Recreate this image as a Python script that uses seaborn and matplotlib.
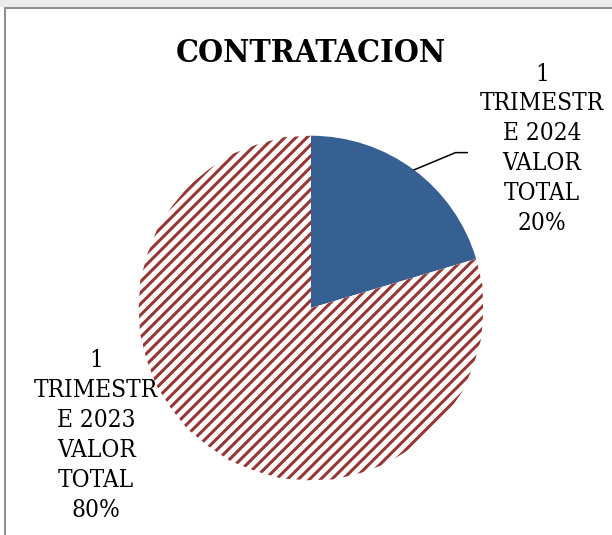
import matplotlib
matplotlib.use("Agg")
import matplotlib.pyplot as plt
import seaborn as sns
import numpy as np
from matplotlib.patches import Rectangle, Polygon
from matplotlib.lines import Line2D

# data
categories = ["1\nTRIMESTR\nE 2024\nVALOR\nTOTAL", "1\nTRIMESTR\nE 2023\nVALOR\nTOTAL"]
shares = [20.4, 79.6]
title = "CONTRATACION"

blue = "#366092"
red_hatch = "#953735"

sns.set_theme(style="white")
plt.rcParams['font.family'] = ['DejaVu Serif', 'Liberation Serif']
plt.rcParams['hatch.linewidth'] = 2.2

fig = plt.figure(figsize=(6.12, 5.35), dpi=100)
fig.patch.set_facecolor("white")

# frame like the spreadsheet chart area
fig.patches.append(Rectangle((0, 1 - 7 / 535), 1, 7 / 535, transform=fig.transFigure,
                             facecolor="#ececec", edgecolor="none"))
fig.lines.append(Line2D([5 / 612, 1], [1 - 8 / 535, 1 - 8 / 535], transform=fig.transFigure,
                        color="#8c8c8c", lw=1.4))
fig.lines.append(Line2D([5 / 612, 5 / 612], [0, 1 - 8 / 535], transform=fig.transFigure,
                        color="#8c8c8c", lw=1.4))

ax = fig.add_axes([137 / 612, 53 / 535, 348 / 612, 348 / 535])
wedges, _ = ax.pie(shares, startangle=90, counterclock=False, radius=1,
                   colors=[blue, "white"])
wedges[0].set_linewidth(0)
wedges[1].set_linewidth(0)

# hatched slice: redraw as a flattened polygon so the hatch fills the whole arc
verts = wedges[1].get_path().to_polygons()[0]
hatched = Polygon(verts, closed=True, facecolor="white", edgecolor=red_hatch,
                  linewidth=0, hatch="///")
ax.add_patch(hatched)
wedges[1].set_visible(False)

ax.set_xlim(-1.01, 1.01)
ax.set_ylim(-1.01, 1.01)
ax.set_aspect("equal")
ax.axis("off")

labels = [f"{c}\n{round(s)}%" for c, s in zip(categories, shares)]

# 2024 label with leader line
w = wedges[0]
mid = np.deg2rad((w.theta1 + w.theta2) / 2)
ax.plot([np.cos(mid), 0.839, 0.908], [np.sin(mid), 0.902, 0.902], color="black", lw=1.1,
        clip_on=False)
label_font = dict(fontsize=17.5, fontstretch="condensed", color="black",
                  ha="center", va="center", linespacing=1.38)
ax.text(1.34, 0.925, labels[0], **label_font)
ax.text(-1.247, -0.740, labels[1], **label_font)

fig.text(311 / 612, 1 - 54 / 535, title, ha="center", va="center", fontsize=23,
         fontweight="bold", color="black", fontstretch="condensed")

fig.savefig("out.png", dpi=100)
